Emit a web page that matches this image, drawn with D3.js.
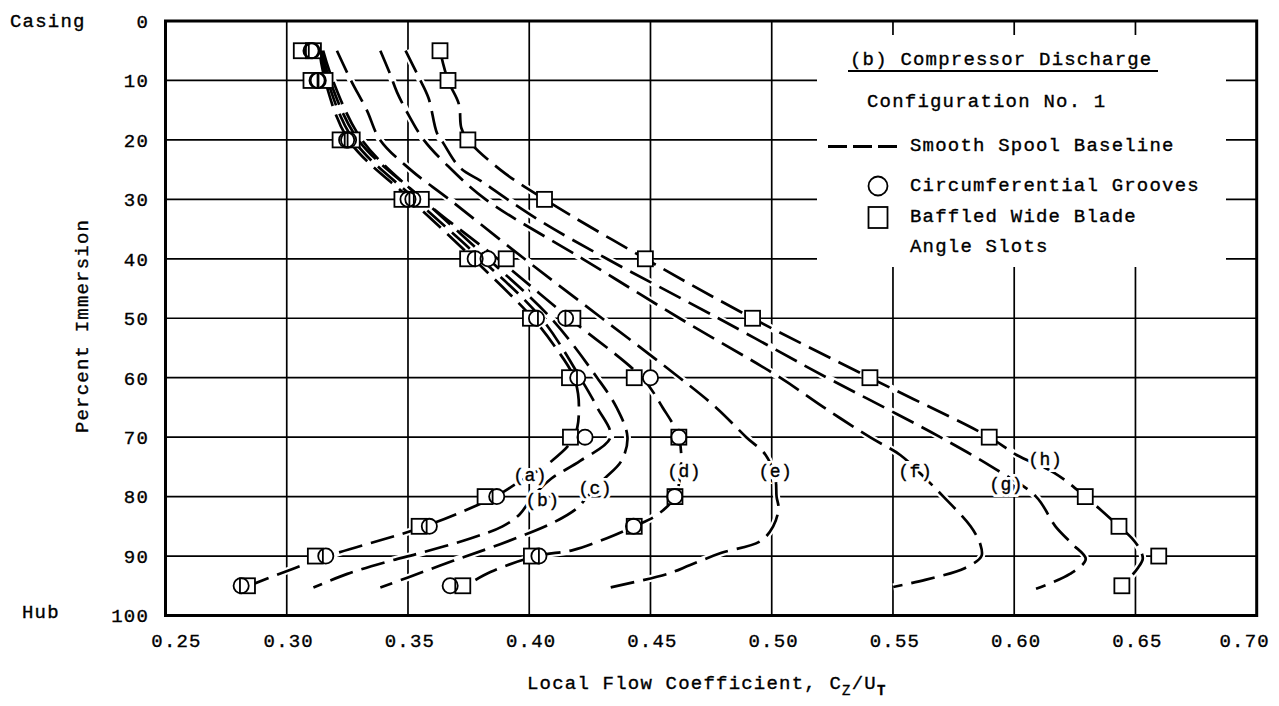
<!DOCTYPE html>
<html><head><meta charset="utf-8">
<script src="https://cdn.jsdelivr.net/npm/d3@7"></script>
<style>body{margin:0;background:#fff}</style>
</head><body>
<svg id="chart" width="1279" height="706"></svg>
<script>
// Axis ticks
const xTicks = [0.25, 0.30, 0.35, 0.40, 0.45, 0.50, 0.55, 0.60, 0.65, 0.70];
const yTicks = [0, 10, 20, 30, 40, 50, 60, 70, 80, 90, 100];

// Smooth spool baseline profiles, [percent immersion, Cz/Ut]
const curveA = [[5,0.3135],[10,0.3158],[20,0.3255],[30,0.351],[40,0.377],[50,0.4015],[55,0.411],[60,0.4185],[65,0.4205],[70,0.4185],[74,0.4093],[78,0.394],[80,0.386],[85,0.357],[90,0.317],[95.3,0.2825]];
const curveB = [[5,0.314],[10,0.3168],[20,0.3275],[30,0.353],[40,0.380],[50,0.405],[60,0.421],[65,0.428],[70,0.4335],[74,0.421],[77,0.409],[80,0.4015],[83,0.396],[85,0.389],[87,0.376],[89.5,0.355],[91,0.341],[93,0.325],[95.3,0.311]];
const curveC = [[5,0.3145],[10,0.3178],[20,0.3295],[30,0.356],[40,0.383],[50,0.409],[60,0.428],[65,0.436],[70,0.4405],[74,0.438],[77,0.431],[80,0.424],[82,0.4196],[84.5,0.4093],[88,0.388],[90.8,0.3686],[93.6,0.35],[95.3,0.3386]];
const curveD = [[5,0.315],[10,0.319],[20,0.331],[30,0.356],[40,0.387],[50,0.4165],[60,0.4465],[65,0.455],[70,0.4617],[75,0.4625],[80,0.4601],[83,0.453],[85,0.4433],[87,0.432],[89,0.418],[90,0.403],[92.7,0.384],[95.3,0.3726]];
const curveE = [[5,0.3207],[10,0.3265],[15,0.333],[20,0.3385],[25,0.351],[30,0.367],[40,0.398],[50,0.430],[60,0.462],[65,0.477],[70,0.4895],[73,0.4975],[77,0.5015],[80,0.502],[82,0.5028],[85,0.5006],[87.5,0.4953],[89.5,0.479],[91.5,0.4664],[93,0.457],[95.4,0.432]];
const curveF = [[5,0.3386],[9,0.3427],[12,0.3455],[16,0.3505],[20,0.3565],[24,0.3655],[30,0.382],[40,0.422],[50,0.462],[60,0.5035],[65,0.5215],[70,0.5405],[73,0.553],[76,0.561],[80,0.5708],[85,0.582],[88,0.586],[90,0.5865],[92,0.5798],[94,0.5633],[95.2,0.5501]];
const curveG = [[5,0.349],[9.5,0.3545],[13,0.3585],[18.8,0.3619],[20.5,0.3645],[24.7,0.3715],[27,0.3804],[30,0.391],[34,0.406],[40,0.432],[50,0.478],[60,0.5228],[65,0.5464],[70,0.5695],[75,0.5908],[80,0.609],[85,0.617],[88,0.624],[90.5,0.6295],[93,0.623],[95.5,0.609]];
const curveH = [[5,0.3632],[10,0.3665],[14,0.371],[18,0.372],[20,0.3747],[25,0.388],[30,0.4063],[40,0.4479],[50,0.4921],[60,0.5405],[70,0.5897],[73,0.601],[76,0.6165],[80,0.6293],[85,0.6432],[87,0.6485],[89,0.652],[90.5,0.653],[92,0.651],[93.5,0.648],[95,0.6444]];
const baselineCurves = [curveA, curveB, curveC, curveD, curveE, curveF, curveG, curveH];

// Curve letters and where each sits, [percent immersion, Cz/Ut]
const curveLetters = ["(a)", "(b)", "(c)", "(d)", "(e)", "(f)", "(g)", "(h)"];
const letterSpots = [[76.5,0.4004],[80.8,0.4055],[78.8,0.4272],[75.9,0.4639],[75.9,0.5015],[75.9,0.5592],[78.1,0.5967],[73.8,0.6128]];

// Circumferential grooves (circles) and baffled wide blade angle slots (squares)
const groovesLow  = [[5,0.310],[10,0.3125],[20,0.3247],[30,0.350],[40,0.3777],[50,0.403],[60,0.420],[70,0.423],[80,0.3866],[85,0.3588],[90,0.3161],[95,0.2812]];
const groovesMid  = [[5,0.3105],[10,0.313],[20,0.3255],[30,0.352],[40,0.383],[50,0.415],[60,0.450],[70,0.4617],[80,0.460],[85,0.443],[90,0.404],[95,0.3674]];
const slotsLow    = [[5,0.306],[10,0.310],[20,0.322],[30,0.3475],[40,0.3746],[50,0.4005],[60,0.4166],[70,0.417],[80,0.3818],[85,0.3546],[90,0.3118],[95,0.2838]];
const slotsMid    = [[5,0.311],[10,0.3158],[20,0.327],[30,0.3555],[40,0.3905],[50,0.418],[60,0.4433],[70,0.4617],[80,0.4601],[85,0.4433],[90,0.4009],[95,0.3726]];
const slotsHigh   = [[5,0.3632],[10,0.3665],[20,0.3747],[30,0.4063],[40,0.4479],[50,0.4921],[60,0.5405],[70,0.5897],[80,0.6293],[85,0.6432],[90,0.6596],[95,0.6444]];
const grooveSets = [groovesLow, groovesMid];
const slotSets = [slotsLow, slotsMid, slotsHigh];

const FONT = "'Liberation Mono','DejaVu Sans Mono',monospace";
const svg = d3.select("#chart");

const x = d3.scaleLinear().domain([0.25, 0.70]).range([165.5, 1256.7]);
const y = d3.scaleLinear().domain([0, 100]).range([21, 615.5]);

// grid
const grid = svg.append("g").attr("stroke", "#000").attr("stroke-width", 1.7);
grid.selectAll("line.v").data(xTicks.slice(1, -1)).join("line")
  .attr("x1", d => x(d)).attr("x2", d => x(d)).attr("y1", y(0)).attr("y2", y(100));
grid.selectAll("line.h").data(yTicks.slice(1, -1)).join("line")
  .attr("y1", d => y(d)).attr("y2", d => y(d)).attr("x1", x(0.25)).attr("x2", x(0.70));

// legend panel knocks out the grid behind it
svg.append("rect").attr("x", 817).attr("y", 35).attr("width", 409).attr("height", 232).attr("fill", "#fff");

const line = d3.line().x(d => x(d[1])).y(d => y(d[0])).curve(d3.curveCatmullRom.alpha(0.5));

// white halo under each curve, then the dashed curves
svg.append("g").selectAll("path").data(baselineCurves).join("path")
  .attr("d", line).attr("fill", "none").attr("stroke", "#fff").attr("stroke-width", 7);
svg.append("g").selectAll("path").data(baselineCurves).join("path")
  .attr("d", line).attr("fill", "none").attr("stroke", "#000")
  .attr("stroke-width", 2.7).attr("stroke-dasharray", "24,9");

// curve letters: white knock-out copy, then the inked letters
const letterText = (sel) => sel
  .attr("x", (d, i) => x(letterSpots[i][1])).attr("y", (d, i) => y(letterSpots[i][0]))
  .attr("text-anchor", "middle").attr("dominant-baseline", "central")
  .attr("font-family", FONT).attr("font-size", 18).attr("letter-spacing", 0.5).text(d => d);
svg.append("g").selectAll("text").data(curveLetters).join("text").call(letterText)
  .attr("fill", "#fff").attr("stroke", "#fff").attr("stroke-width", 6);
svg.append("g").selectAll("text").data(curveLetters).join("text").call(letterText)
  .attr("fill", "#000").attr("stroke", "#000").attr("stroke-width", 0.35);

// markers: white bodies first so overlapping outlines both stay visible
const SQ = 15, R = 7.6;
const allGrooves = grooveSets.flat(), allSlots = slotSets.flat();
const mk = svg.append("g");
mk.selectAll("rect.b").data(allSlots).join("rect")
  .attr("x", d => x(d[1]) - SQ / 2).attr("y", d => y(d[0]) - SQ / 2)
  .attr("width", SQ).attr("height", SQ).attr("fill", "#fff");
mk.selectAll("circle.b").data(allGrooves).join("circle")
  .attr("cx", d => x(d[1])).attr("cy", d => y(d[0])).attr("r", R).attr("fill", "#fff");
const mo = svg.append("g").attr("fill", "none").attr("stroke", "#000").attr("stroke-width", 1.8);
mo.selectAll("rect").data(allSlots).join("rect")
  .attr("x", d => x(d[1]) - SQ / 2).attr("y", d => y(d[0]) - SQ / 2)
  .attr("width", SQ).attr("height", SQ);
mo.selectAll("circle").data(allGrooves).join("circle")
  .attr("cx", d => x(d[1])).attr("cy", d => y(d[0])).attr("r", R);

// frame
svg.append("rect").attr("x", x(0.25)).attr("y", y(0))
  .attr("width", x(0.70) - x(0.25)).attr("height", y(100) - y(0))
  .attr("fill", "none").attr("stroke", "#000").attr("stroke-width", 3);

// typewriter-weight text
const txt = (sel) => sel.attr("font-family", FONT).attr("font-size", 19)
  .attr("letter-spacing", 1.2).attr("fill", "#000")
  .attr("stroke", "#000").attr("stroke-width", 0.35);

// y tick labels
svg.append("g").selectAll("text").data(yTicks).join("text").call(txt)
  .attr("x", 149).attr("y", d => y(d)).attr("dy", "0.36em")
  .attr("text-anchor", "end").text(d => d);
svg.append("text").call(txt).attr("x", 10).attr("y", y(0)).attr("dy", "0.3em").text("Casing");
svg.append("text").call(txt).attr("x", 22).attr("y", y(100)).attr("dy", "0.15em").text("Hub");

// x tick labels (end labels pulled inward)
svg.append("g").selectAll("text").data(xTicks).join("text").call(txt)
  .attr("x", (d, i) => x(d) + (i === 0 ? 11 : i === xTicks.length - 1 ? -12 : 2))
  .attr("y", 647).attr("text-anchor", "middle").text(d => d.toFixed(2));

// axis titles
svg.append("text").call(txt).attr("transform", "translate(88,326) rotate(-90)")
  .attr("text-anchor", "middle").text("Percent Immersion");
const xt = svg.append("text").call(txt).attr("x", 527).attr("y", 689);
xt.append("tspan").text("Local Flow Coefficient, C");
xt.append("tspan").attr("font-size", 14).attr("dy", 6).text("Z");
xt.append("tspan").attr("dy", -6).text("/U");
xt.append("tspan").attr("font-size", 14).attr("font-weight", "bold").attr("dy", 6).text("T");

// legend
svg.append("text").call(txt).attr("x", 850).attr("y", 65).text("(b) Compressor Discharge");
svg.append("line").attr("x1", 848).attr("x2", 1158).attr("y1", 71).attr("y2", 71)
  .attr("stroke", "#000").attr("stroke-width", 1.8);
svg.append("text").call(txt).attr("x", 867).attr("y", 107).text("Configuration No. 1");
svg.append("line").attr("x1", 828).attr("x2", 897).attr("y1", 146.5).attr("y2", 146.5)
  .attr("stroke", "#000").attr("stroke-width", 2.8).attr("stroke-dasharray", "19,6");
svg.append("text").call(txt).attr("x", 910).attr("y", 151).text("Smooth Spool Baseline");
svg.append("circle").attr("cx", 878).attr("cy", 186).attr("r", 9.5)
  .attr("fill", "none").attr("stroke", "#000").attr("stroke-width", 1.8);
svg.append("text").call(txt).attr("x", 910).attr("y", 191).text("Circumferential Grooves");
svg.append("rect").attr("x", 868.5).attr("y", 207).attr("width", 19).attr("height", 21)
  .attr("fill", "none").attr("stroke", "#000").attr("stroke-width", 1.8);
svg.append("text").call(txt).attr("x", 910).attr("y", 222).text("Baffled Wide Blade");
svg.append("text").call(txt).attr("x", 910).attr("y", 252).text("Angle Slots");
</script>
</body></html>
